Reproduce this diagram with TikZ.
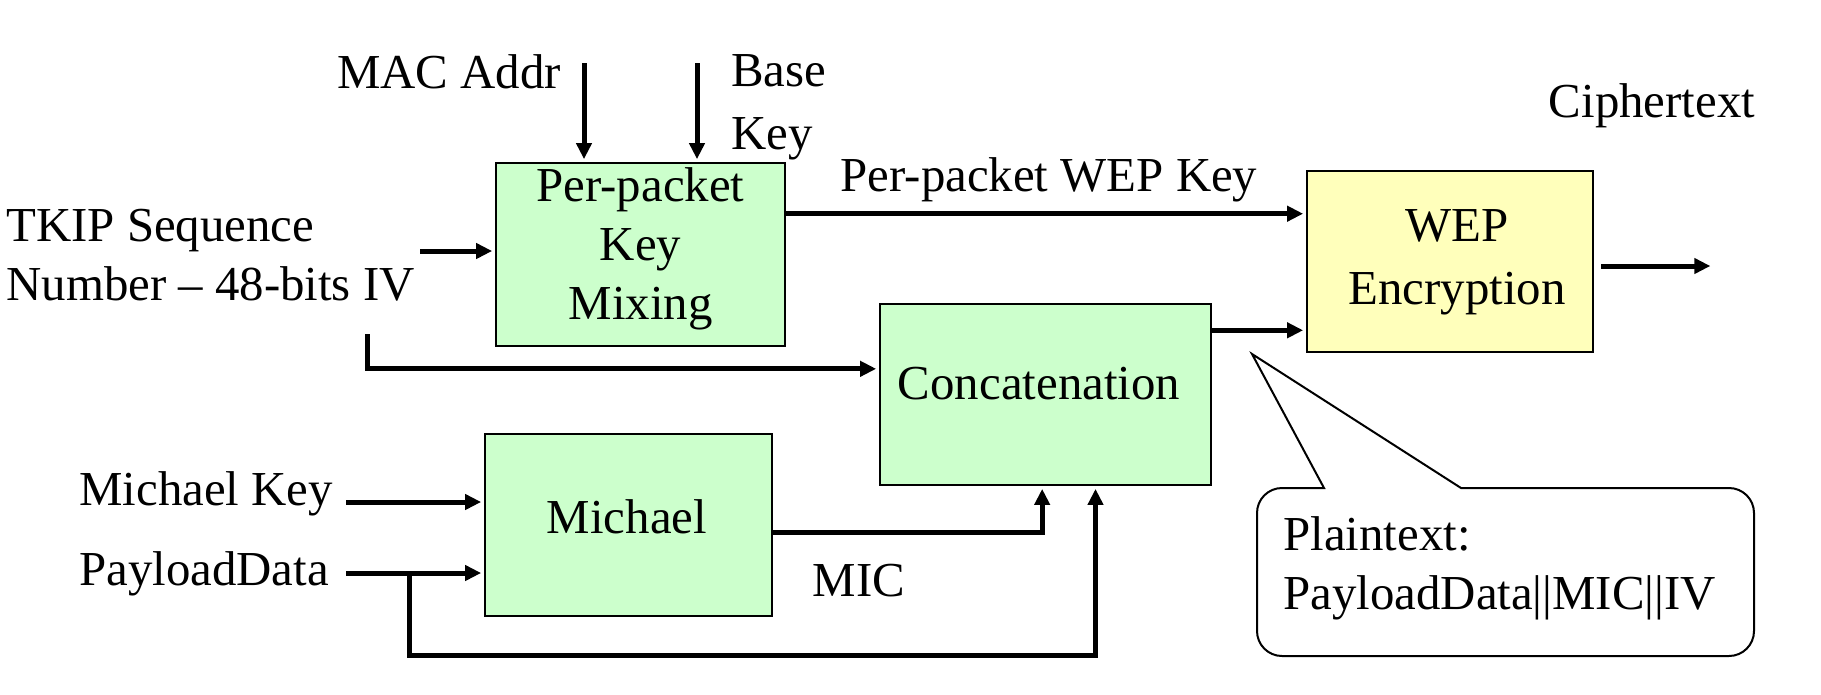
\documentclass[tikz,border=0pt]{standalone}
\usepackage{fontspec}
\setmainfont{Liberation Serif}
\usetikzlibrary{arrows.meta, positioning, calc}
\definecolor{boxgreen}{HTML}{CCFFCC}
\definecolor{boxyellow}{HTML}{FFFFBB}

\begin{document}
\begin{tikzpicture}[
    x=0.02cm, y=-0.02cm,
    every node/.style={font=\fontsize{27.8}{33.5}\selectfont, inner sep=0pt},
    blk/.style={draw, line width=0.05cm, fill=boxgreen, align=center},
    arr/.style={line width=0.1cm, -{Triangle[length=0.32cm,width=0.3cm]}, shorten >=1.5pt},
    lbl/.style={align=left, anchor=west},
]
\useasboundingbox (0,0) rectangle (1821,694);
% blocks
\node[blk, minimum width=5.78cm, minimum height=3.66cm] (mix) at (640.5,254.5) {};
\node[align=center] (mixtxt) at (640.5,249) {Per-packet\\Key\\Mixing};
\node[blk, fill=boxyellow, minimum width=5.72cm, minimum height=3.62cm] (wep) at (1450,261.5) {};
\node[align=center, font=\fontsize{27.8}{36}\selectfont] (weptxt) at (1457,262) {WEP\\Encryption};
\node[blk, minimum width=6.62cm, minimum height=3.62cm] (concat) at (1045.5,394.5) {};
\node (concattxt) at (1039,384) {Concatenation};
\node[blk, minimum width=5.74cm, minimum height=3.64cm] (michael) at (628.5,525) {};
\node (michaeltxt) at (627,517) {Michael};
% labels
\node (maclbl) at (449,72) {MAC Addr};
\node[lbl, font=\fontsize{27.8}{36}\selectfont] (baselbl) at (731,107) {Base\\Key};
\node (ciphlbl) at (1652,106) {Ciphertext};
\node[lbl] (tkiplbl) at (6,255) {TKIP Sequence\\Number – 48-bits IV};
\node (wepkeylbl) at (1049,180) {Per-packet WEP Key};
\node[lbl] (mkeylbl) at (79,494) {Michael Key};
\node[lbl] (paylbl) at (79,574) {PayloadData};
\node (miclbl) at (859,581) {MIC};
\node[lbl] (plainlbl) at (1283,568) {Plaintext:\\PayloadData||MIC||IV};
% callout
\draw[line width=0.04cm] (1252,354) -- (1461,488) [rounded corners=0.5cm] -- (1754,488) -- (1754,656) -- (1257,656) -- (1257,488) [sharp corners] -- (1324,488) -- cycle;
% free ends
\coordinate (macin) at (584,63);
\coordinate (basein) at (697,63);
\coordinate (tkipin) at (420,251);
\coordinate (ivtap) at (367,334);
\coordinate (cipherout) at (1713,266);
\coordinate (mkeyin) at (346,502);
\coordinate (payin) at (346,573);
\coordinate (paytap) at (409,573);
\coordinate (paybend) at (409,655);
\coordinate (mixout) at ($(mix.north east)!0.28!(mix.south east)$);
\coordinate (concatout) at ($(concat.north east)!0.15!(concat.south east)$);
\coordinate (micout) at ($(michael.north east)!0.54!(michael.south east)$);
% connectors
\draw[arr] (macin) -- (macin |- mix.north);
\draw[arr] (basein) -- (basein |- mix.north);
\draw[arr] (tkipin) -- (tkipin -| mix.west);
\draw[arr] (ivtap) |- ($(concat.north west)!0.36!(concat.south west)$);
\draw[arr] (mixout) -- (mixout -| wep.west);
\draw[arr] (concatout) -- (concatout -| wep.west);
\draw[arr, shorten <=0.14cm] (wep.east |- cipherout) -- (cipherout);
\draw[arr] (mkeyin) -- (mkeyin -| michael.west);
\draw[arr] (payin) -- (payin -| michael.west);
\draw[arr] (paytap) -- (paybend) -| ($(concat.south west)!0.65!(concat.south east)$);
\draw[arr] (micout) -| ($(concat.south west)!0.49!(concat.south east)$);
\end{tikzpicture}
\end{document}
